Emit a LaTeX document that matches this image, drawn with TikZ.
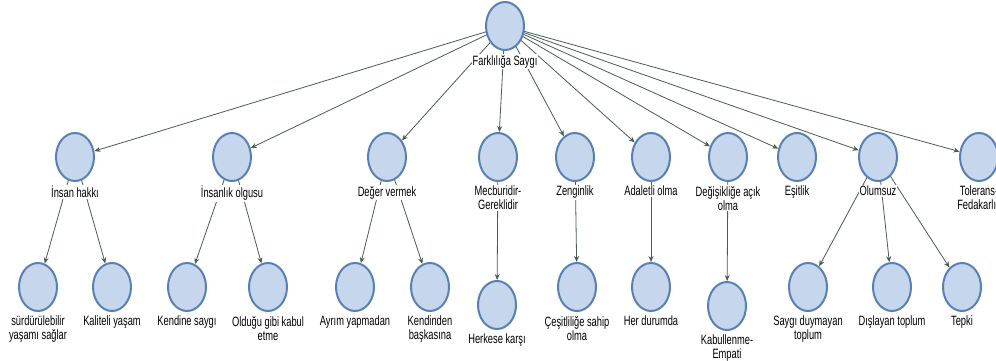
\documentclass[tikz,border=0pt]{standalone}
\usepackage{fontspec}
\setmainfont{Liberation Sans}[FakeStretch=0.69]
\usetikzlibrary{arrows.meta,backgrounds,shapes.geometric}
\definecolor{bubblefill}{RGB}{198,214,236}
\definecolor{bubbleline}{RGB}{88,128,178}
\definecolor{linkcol}{RGB}{72,92,82}
\tikzset{
  topic/.style={ellipse, draw=bubbleline, fill=bubblefill, line width=2pt,
    minimum width=38pt, minimum height=48pt, inner sep=0pt},
  caption/.style={fill=white, inner sep=1pt, align=center, text=black,
    font=\fontsize{13.5}{14}\selectfont},
  link/.style={draw=linkcol, line width=0.8pt, -{Stealth[length=6pt,width=5pt]}},
  cap/.style={label={[caption]below:#1}}
}
\begin{document}
\begin{tikzpicture}[x=1pt,y=-1pt,label distance=3pt]
\useasboundingbox (0,0) rectangle (996,361);
\clip (0,0) rectangle (996,361);
% root
\node[topic, cap={Farklılığa Saygı}] (root) at (505,26) {};
% first level
\node[topic, cap={İnsan hakkı}] (a1) at (75,157) {};
\node[topic, cap={İnsanlık olgusu}] (a2) at (232,157) {};
\node[topic, cap={Değer vermek}] (a3) at (387,157) {};
\node[topic, cap={Mecburidir-\\Gereklidir}] (a4) at (498,157) {};
\node[topic, cap={Zenginlik}] (a5) at (575,157) {};
\node[topic, cap={Adaletli olma}] (a6) at (651,157) {};
\node[topic, cap={Değişikliğe açık\\olma}] (a7) at (728,157) {};
\node[topic, cap={Eşitlik}] (a8) at (797,157) {};
\node[topic, cap={Olumsuz}] (a9) at (878,157) {};
\node[topic, cap={Tolerans-\\Fedakarlık}] (a10) at (979,157) {};
% second level
\node[topic, cap={sürdürülebilir\\yaşamı sağlar}] (b1) at (38,287) {};
\node[topic, cap={Kaliteli yaşam}] (b2) at (112,287) {};
\node[topic, cap={Kendine saygı}] (b3) at (187,287) {};
\node[topic, cap={Olduğu gibi kabul\\etme}] (b4) at (268,287) {};
\node[topic, cap={Ayrım yapmadan}] (b5) at (355,287) {};
\node[topic, cap={Kendinden\\başkasına}] (b6) at (430,287) {};
\node[topic, cap={Herkese karşı}] (b7) at (497,305) {};
\node[topic, cap={Çeşitliliğe sahip\\olma}] (b8) at (577,287) {};
\node[topic, cap={Her durumda}] (b9) at (651,287) {};
\node[topic, cap={Kabullenme-\\Empati}] (b10) at (727,306) {};
\node[topic, cap={Saygı duymayan\\toplum}] (b11) at (808,287) {};
\node[topic, cap={Dışlayan toplum}] (b12) at (892,287) {};
\node[topic, cap={Tepki}] (b13) at (962,287) {};
% connectors run behind the bubbles and their captions
\begin{scope}[on background layer]
\foreach \c in {a1,a2,a3,a4,a5,a6,a7,a8,a9,a10}
  \draw[link] (root.center) -- (\c);
\draw[link] (a1.center) -- (b1);
\draw[link] (a1.center) -- (b2);
\draw[link] (a2.center) -- (b3);
\draw[link] (a2.center) -- (b4);
\draw[link] (a3.center) -- (b5);
\draw[link] (a3.center) -- (b6);
\draw[link] (a4.center) -- (b7);
\draw[link] (a5.center) -- (b8);
\draw[link] (a6.center) -- (b9);
\draw[link] (a7.center) -- (b10);
\draw[link] (a9.center) -- (b11);
\draw[link] (a9.center) -- (b12);
\draw[link] (a9.center) -- (b13);
\end{scope}
\end{tikzpicture}
\end{document}
